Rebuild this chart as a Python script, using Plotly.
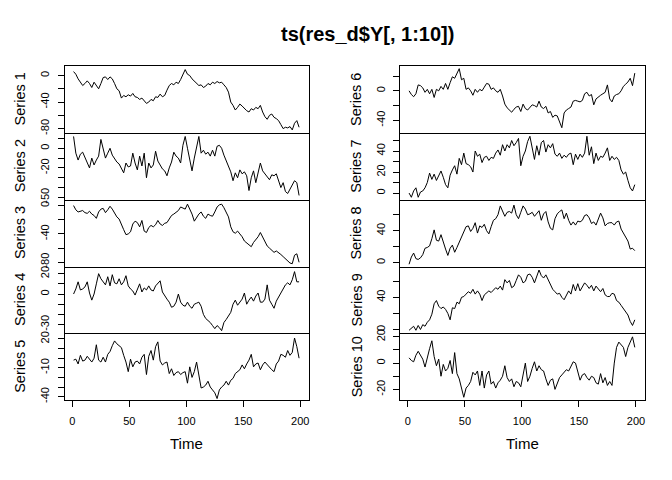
import plotly.graph_objects as go

# time points (every second step of the 200-long series)
time = list(range(1, 200, 2))

series_1 = [6, 2, -5, -10, -15, -12, -8, -12, -18, -10, -15, -20, -12, -3, -2, -6, -2, -5, -12, -20,
            -23, -34, -30, -32, -29, -31, -27, -32, -33, -36, -34, -38, -42, -40, -36, -38, -32, -33, -28, -32,
            -30, -22, -15, -12, -14, -10, -12, -6, 2, 9, 2, 0, -5, -8, -12, -15, -14, -18, -16, -12,
            -14, -10, -12, -9, -11, -10, -14, -18, -25, -40, -45, -52, -48, -43, -46, -50, -53, -55, -50, -52,
            -48, -50, -45, -55, -62, -66, -60, -58, -63, -65, -68, -74, -80, -78, -79, -77, -82, -72, -68, -78]
series_2 = [12, -5, -12, -6, -4, -9, -14, -20, -10, -17, -12, -8, 9, -2, -10, -5, 0, -7, -11, -14,
            -16, -20, -25, -15, -19, -18, -5, -15, -22, -8, -18, -5, -30, -15, -20, -17, -3, -13, -17, -21,
            -23, -28, -20, -14, -4, -8, -10, -15, 3, 12, 0, -12, -23, -10, 0, 12, -5, -2, -6, -4,
            -8, -2, -8, 2, 3, 0, -7, -13, -18, -24, -33, -25, -30, -22, -26, -24, -28, -43, -30, -23,
            -35, -25, -15, -23, -26, -29, -32, -27, -28, -26, -33, -40, -35, -44, -46, -42, -38, -33, -35, -48]
series_3 = [0, -6, -9, -8, -7, -10, -11, -8, -12, -14, -18, -9, -5, -4, -10, -6, -1, -5, -10, -16,
            -19, -28, -34, -41, -40, -37, -26, -22, -24, -30, -21, -36, -38, -31, -28, -30, -27, -21, -26, -28,
            -25, -24, -18, -14, -12, -10, -7, -2, -3, -5, 2, -4, -12, -22, -16, -12, -9, -15, -18, -12,
            -14, -15, -9, -2, 1, 2, -3, -10, -16, -30, -37, -39, -36, -40, -44, -50, -53, -55, -58, -52,
            -48, -44, -38, -45, -52, -57, -60, -63, -66, -64, -66, -69, -72, -75, -77, -81, -82, -70, -68, -80]
series_4 = [0, 5, 12, 4, 5, 7, 12, 1, -6, 0, 10, 20, 15, 12, 9, 17, 8, 19, 11, 10,
            15, 9, 12, 18, 8, 5, 3, -1, 4, 10, 2, 6, 4, 8, 4, 3, 8, 10, 13, 2,
            -2, -5, -8, -13, -12, -8, 0, -8, -11, -12, -8, -12, -14, -10, -9, -8, -12, -20, -24, -26,
            -28, -31, -34, -31, -33, -36, -28, -25, -21, -18, -10, -6, -11, -8, -5, 1, -10, -6, -3, -7,
            -2, 1, -8, -8, -5, 9, -6, -10, -14, -7, -3, 1, 4, 9, 11, 9, 14, 22, 12, 12]
series_5 = [-2, -1, -6, 3, -3, -2, 2, -1, -4, 0, 14, -2, -4, 1, -4, 4, 7, 13, 18, 15,
            13, 11, 3, -4, -14, -1, -9, -4, -3, -6, 1, 4, -17, 2, 8, -2, 12, 17, -3, -7,
            -5, -4, -16, -11, -18, -15, -14, -17, -15, -14, -26, -9, -20, -14, -4, -20, -31, -30, -28, -24,
            -30, -33, -36, -42, -33, -30, -28, -24, -28, -23, -21, -16, -14, -12, -7, -11, -6, -2, 4, -9,
            -6, -5, -12, -7, -4, -7, -10, -12, -14, -6, -3, 4, 3, 1, 8, 3, 6, 21, 12, 0]
series_6 = [0, -5, -8, -4, 8, 7, 4, -2, 2, -4, 2, -9, 2, 0, 6, 2, 10, 2, 11, 19,
            17, 24, 30, 15, 17, 2, 4, 0, -6, 2, -2, 2, 0, 5, 10, 9, 2, 4, 0, -2,
            2, -7, -18, -23, -26, -29, -25, -22, -21, -28, -18, -24, -26, -22, -19, -20, -22, -14, -22, -24,
            -21, -30, -28, -36, -33, -34, -43, -50, -30, -26, -24, -22, -14, -13, -14, -15, -13, -4, -2, -7,
            -5, -19, -11, -8, -6, -4, -2, 8, -11, -15, -7, -5, -4, 0, 6, 9, 12, 17, 7, 24]
series_7 = [0, -4, 2, 5, -4, 1, 2, 5, 10, 19, 13, 18, 12, 16, 21, 15, 8, 5, 17, 22,
            26, 18, 33, 27, 38, 28, 27, 25, 20, 40, 35, 37, 29, 34, 35, 31, 34, 33, 38, 41,
            36, 46, 40, 46, 43, 50, 45, 48, 52, 26, 35, 40, 49, 54, 44, 32, 45, 36, 48, 50,
            39, 46, 43, 47, 37, 35, 38, 33, 36, 34, 37, 38, 27, 37, 32, 37, 34, 38, 54, 36,
            44, 28, 38, 31, 35, 34, 38, 43, 31, 35, 32, 34, 31, 22, 18, 20, 12, 5, 2, 8]
series_8 = [-2, 7, 12, 5, 4, 6, 10, 18, 19, 21, 30, 41, 28, 27, 35, 25, 17, 9, 18, 22,
            13, 19, 25, 32, 39, 45, 46, 39, 43, 50, 37, 46, 44, 48, 40, 36, 45, 53, 55, 60,
            71, 64, 58, 63, 64, 62, 72, 60, 55, 63, 71, 67, 60, 61, 63, 58, 62, 65, 53, 61,
            64, 51, 43, 41, 55, 61, 64, 66, 55, 62, 53, 47, 51, 47, 52, 51, 53, 59, 60, 56,
            49, 51, 47, 55, 62, 56, 46, 49, 50, 50, 47, 51, 52, 42, 37, 33, 27, 17, 18, 15]
series_9 = [-1, 1, 4, -1, 5, 0, 6, 4, 9, 12, 19, 32, 36, 29, 26, 28, 25, 20, 12, 27,
            26, 34, 32, 40, 41, 44, 47, 45, 50, 44, 48, 44, 36, 43, 46, 48, 46, 49, 52, 50,
            54, 49, 62, 58, 61, 52, 54, 61, 68, 65, 58, 60, 68, 69, 65, 58, 66, 74, 67, 64,
            68, 62, 55, 50, 47, 44, 45, 40, 37, 43, 48, 44, 56, 48, 57, 48, 53, 58, 55, 51,
            55, 48, 54, 50, 47, 51, 43, 41, 41, 45, 44, 36, 34, 30, 26, 23, 18, 10, 5, 12]
series_10 = [4, 2, 1, 6, 9, 6, 3, -3, 5, 11, 17, 5, -2, 3, -10, -1, -6, -4, 2, -8,
             8, -8, -12, -20, -26, -19, -17, -14, -7, -9, -6, -17, -6, -19, -9, -6, -16, -14, -19, -15,
             -13, -10, -2, -11, -14, -12, -18, -14, -15, -18, -10, 0, -14, -10, -4, 1, -6, -2, -5, -6,
             -12, -17, -13, -12, -20, -16, -11, -9, -7, -5, -6, -2, 1, 0, -6, -13, -9, -8, -11, -13,
             -10, -11, -15, -16, -8, -15, -11, -17, -14, -17, 0, 12, 16, 14, 12, 5, 12, 16, 20, 12]

all_series = [series_1, series_2, series_3, series_4, series_5,
              series_6, series_7, series_8, series_9, series_10]
series_names = ["Series %d" % (i + 1) for i in range(10)]

# y tick values and the labels R kept (others dropped for overlap)
y_ticks = [
    ([-80, -60, -40, -20, 0], ["-80", "", "-40", "", "0"]),
    ([-50, -40, -30, -20, -10, 0, 10], ["-50", "", "", "-20", "", "0", ""]),
    ([-80, -60, -40, -20, 0], ["-80", "", "-40", "", "0"]),
    ([-30, -20, -10, 0, 10, 20], ["-30", "", "", "0", "", "20"]),
    ([-40, -30, -20, -10, 0, 10, 20], ["-40", "", "", "-10", "", "", "20"]),
    ([-40, -20, 0, 20], ["-40", "", "0", ""]),
    ([0, 10, 20, 30, 40, 50], ["0", "", "20", "", "40", ""]),
    ([0, 20, 40, 60], ["0", "", "40", ""]),
    ([0, 20, 40, 60], ["0", "", "40", ""]),
    ([-20, -10, 0, 10, 20], ["-20", "", "0", "", "20"]),
]
x_ticks = [0, 50, 100, 150, 200]

y_ranges = [(-86.4, 14.5), (-52.3, 15.7), (-86.0, 8.3), (-38.7, 27.0), (-43.8, 25.8),
            (-56.9, 33.7), (-6.3, 57.3), (-4.9, 78.8), (-4.9, 78.3), (-28.3, 22.6)]

W, H = 672, 480
FONT = "Liberation Sans, Arial, sans-serif"
col_x = [(64.5, 309.3), (400.0, 645.0)]
top0, row_h = 63.0, 68.0

fig = go.Figure()
annotations = []

for i, vals in enumerate(all_series):
    col, row = divmod(i, 5)
    k = i + 1
    xa = "x" if k == 1 else "x%d" % k
    ya = "y" if k == 1 else "y%d" % k
    fig.add_trace(go.Scatter(x=time, y=vals, mode="lines", xaxis=xa, yaxis=ya,
                             line=dict(color="black", width=1), showlegend=False,
                             hoverinfo="skip"))

    x0, x1 = col_x[col]
    ytop = top0 + row * row_h
    ybot = ytop + row_h
    bottom = row == 4

    # each panel draws its bottom edge; only the top panel also draws the top edge
    xaxis = dict(domain=[x0 / W, x1 / W], range=[-6.96, 207.96], anchor=ya,
                 showgrid=False, zeroline=False, showline=True, mirror=(row == 0),
                 linecolor="black", linewidth=1,
                 tickvals=x_ticks if bottom else [], ticks="outside" if bottom else "",
                 ticklen=6, tickcolor="black", showticklabels=bottom,
                 ticklabelstandoff=5,
                 tickfont=dict(family=FONT, size=11, color="black"))
    tv, tt = y_ticks[i]
    yaxis = dict(domain=[1 - ybot / H, 1 - ytop / H], range=list(y_ranges[i]), anchor=xa,
                 showgrid=False, zeroline=False, showline=True, mirror=True,
                 linecolor="black", linewidth=1,
                 tickvals=tv, ticktext=tt, ticks="outside", ticklen=6, tickcolor="black",
                 tickangle=-90, ticklabelstandoff=4,
                 tickfont=dict(family=FONT, size=11, color="black"))
    fig.layout["xaxis" if k == 1 else "xaxis%d" % k] = xaxis
    fig.layout["yaxis" if k == 1 else "yaxis%d" % k] = yaxis

    # series label on the left of each panel
    lab_x = 20 if col == 0 else 356.5
    annotations.append(dict(text=series_names[i], x=lab_x / W, y=1 - (ytop + row_h / 2) / H,
                            xref="paper", yref="paper", showarrow=False, textangle=-90,
                            xanchor="center", yanchor="middle",
                            font=dict(family=FONT, size=14.5, color="black")))

# Time labels under each column
for cx in [186.7, 522.0]:
    annotations.append(dict(text="Time", x=cx / W, y=1 - 447 / H, xref="paper", yref="paper",
                            showarrow=False, xanchor="center", yanchor="middle",
                            font=dict(family=FONT, size=15, color="black")))

annotations.append(dict(text="<b>ts(res_d$Y[, 1:10])</b>", x=367.5 / W, y=1 - 30 / H,
                        xref="paper", yref="paper", showarrow=False,
                        xanchor="center", yanchor="middle",
                        font=dict(family=FONT, size=20, color="black")))

fig.update_layout(width=W, height=H, margin=dict(l=0, r=0, t=0, b=0),
                  paper_bgcolor="white", plot_bgcolor="white",
                  annotations=annotations, showlegend=False)

# drop the page's default body margin so the figure sits at the window corner
fig.write_html("out.html", config={"displayModeBar": False},
               post_script="document.body.style.margin='0px';")
